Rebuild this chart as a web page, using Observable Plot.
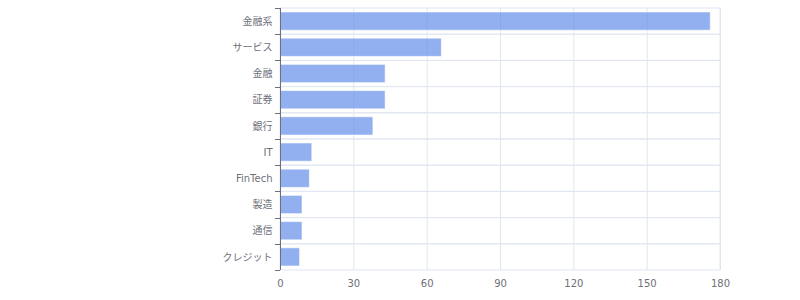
<!DOCTYPE html>
<html>
<head>
<meta charset="utf-8">
<script src="https://cdn.jsdelivr.net/npm/d3@7"></script>
<script src="https://cdn.jsdelivr.net/npm/@observablehq/plot@0.6"></script>
<style>
  html, body { margin: 0; padding: 0; background: #fff; }
  #chart svg { display: block; }
</style>
</head>
<body>
<div id="chart"></div>
<script>
const categories = ["金融系", "サービス", "金融", "証券", "銀行", "IT", "FinTech", "製造", "通信", "クレジット"];
const values = [176, 66, 43, 43, 38, 13, 12, 9, 9, 8];
const xTicks = [0, 30, 60, 90, 120, 150, 180];
const xMax = 180;

const data = categories.map((c, i) => ({category: c, value: values[i]}));
const gridRows = categories.map(c => ({category: c, lo: 0, hi: xMax}));

const axisColor = "#6e7079";
const gridColor = "#e0e6f1";

// y-axis tick marks at category boundaries (drawn through the library's scales)
function boundaryTicks(index, scales, vals, dimensions) {
  const y = scales.y, x = scales.x;
  const bw = typeof y.bandwidth === "function" ? y.bandwidth() : y.bandwidth;
  const off = y(categories[0]) - dimensions.marginTop;
  const ys = categories.map(c => y(c) - off);
  ys.push(ys[ys.length - 1] + bw);
  const x0 = x(0);
  const g = d3.create("svg:g").attr("stroke", axisColor).attr("stroke-width", 1);
  for (const yy of ys) {
    g.append("line")
      .attr("x1", x0 - 5).attr("x2", x0)
      .attr("y1", Math.round(yy) + 0.5).attr("y2", Math.round(yy) + 0.5);
  }
  return g.node();
}

const chart = Plot.plot({
  width: 800,
  height: 300,
  marginLeft: 280,
  marginRight: 80,
  marginTop: 8,
  marginBottom: 30,
  style: {fontFamily: "'DejaVu Sans', 'Noto Sans CJK JP', sans-serif", fontSize: "10px", color: axisColor, background: "#fff"},
  x: {domain: [0, xMax], ticks: xTicks, tickSize: 0, tickPadding: 9, label: null, fontSize: 12},
  y: {domain: categories, padding: 0, round: false, tickSize: 0, tickPadding: 8, label: null, fontSize: 10},
  marks: [
    Plot.barX(gridRows, {y: "category", x1: "lo", x2: "hi", fill: "none", stroke: gridColor, strokeWidth: 1}),
    Plot.ruleX(xTicks, {x: d => d, stroke: gridColor, strokeWidth: 1}),
    Plot.barX(data, {y: "category", x: "value", fill: "#5f8be7", fillOpacity: 0.68, stroke: "#ffffff", strokeOpacity: 0.55, strokeWidth: 1, insetTop: 4, insetBottom: 4}),
    Plot.ruleX([0], {stroke: axisColor, strokeWidth: 1}),
    boundaryTicks
  ]
});

document.getElementById("chart").appendChild(chart);
</script>
</body>
</html>
